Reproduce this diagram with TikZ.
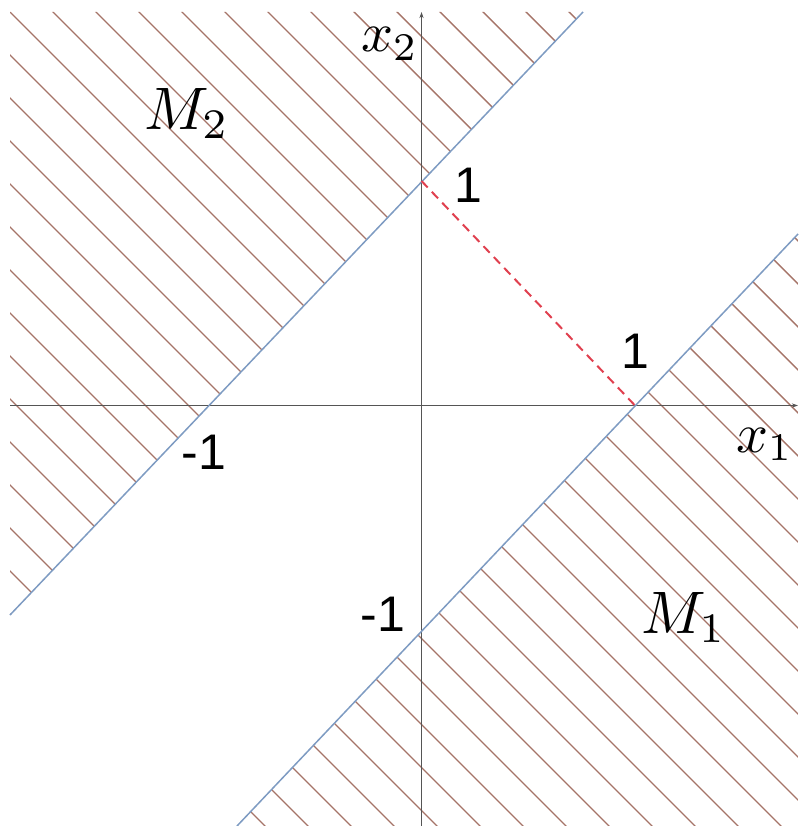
\documentclass[tikz,border=0pt]{standalone}
\usepackage{fontspec}
\newfontfamily\labfont{Liberation Sans}
\usetikzlibrary{arrows.meta}
\definecolor{hatchc}{HTML}{A57468}
\definecolor{bndc}{HTML}{7E9BC2}
\definecolor{axc}{HTML}{555555}
\definecolor{dashc}{HTML}{E0404F}
\tikzset{
  hatchline/.style={draw=hatchc, line width=1.4pt},
  boundline/.style={draw=bndc, line width=1.5pt},
  axisline/.style={draw=axc, line width=1.1pt, -{Stealth[length=6pt,width=4pt]}},
  dashline/.style={draw=dashc, line width=2pt, dash pattern=on 9pt off 6pt},
  numlab/.style={font=\labfont\fontsize{50}{60}\selectfont, inner sep=0pt, anchor=base},
  mathlab/.style={inner sep=0pt, anchor=base west},
}
\begin{document}
\begin{tikzpicture}[x=1pt,y=-1pt]
\useasboundingbox (0,0) rectangle (798,826);
% key points
\coordinate (O) at (421.5,405.5);
\coordinate (P01) at (421.5,181);
\coordinate (P10) at (635,405.5);
\coordinate (Pm10) at (208,405.5);
\coordinate (P0m1) at (421.5,632);
\coordinate (UA) at (10,615);
\coordinate (UB) at (583,12);
\coordinate (LA) at (237,826);
\coordinate (LB) at (798,234);
\coordinate (XL) at (10,405.5);
\coordinate (XR) at (798,405.5);
\coordinate (YB) at (421.5,826);
\coordinate (YT) at (421.5,12);
% hatching M2
\begin{scope}
  \clip (10,12) -- (UB) -- (UA) -- cycle;
  \foreach \k in {-21,...,20} {
    \draw[hatchline] ({-2+43*\k-300},-300) -- ({-2+43*\k+1200},1200);
  }
\end{scope}
% hatching M1
\begin{scope}
  \clip (LB) -- (798,826) -- (LA) -- cycle;
  \foreach \k in {-21,...,20} {
    \draw[hatchline] ({-2+43*\k-300},-300) -- ({-2+43*\k+1200},1200);
  }
\end{scope}
% axes
\draw[axisline] (XL) -- (XR);
\draw[axisline] (YB) -- (YT);
% boundary lines
\draw[boundline] (UA) -- (UB);
\draw[boundline] (LA) -- (LB);
% dashed segment
\draw[dashline] (P01) -- (P10);
% labels
\node[mathlab, scale=5.6] (lx2) at (360,52) {$x_2$};
\node[mathlab, scale=5.6] (lx1) at (735,452) {$x_1$};
\node[mathlab, scale=6] (lM2) at (143,130) {$M_2$};
\node[mathlab, scale=6] (lM1) at (640,633) {$M_1$};
\node[numlab] (l01) at (468,203) {1};
\node[numlab] (l10) at (635,368) {1};
\node[numlab] (lm10) at (204,469) {-1};
\node[numlab] (l0m1) at (383,631) {-1};
\end{tikzpicture}
\end{document}
